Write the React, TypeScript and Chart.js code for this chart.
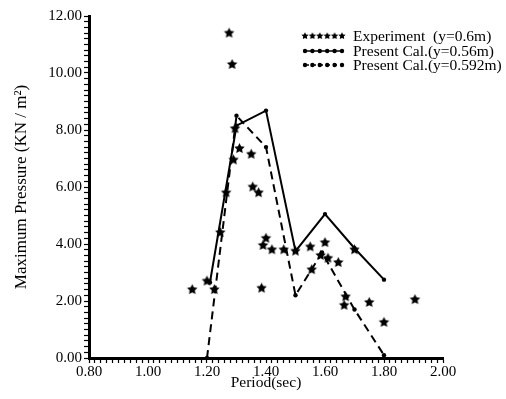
import React, { useEffect, useRef } from 'react';
import { Chart, registerables } from 'chart.js';

Chart.register(...registerables);

// Experiment (y = 0.6 m) — period (sec), max pressure (KN/m^2)
const expPeriod = [1.15, 1.2, 1.225, 1.245, 1.265, 1.275, 1.285, 1.295, 1.29, 1.31, 1.35, 1.355, 1.375, 1.385, 1.39, 1.4, 1.42, 1.46, 1.5, 1.55, 1.555, 1.585, 1.6, 1.61, 1.645, 1.665, 1.67, 1.7, 1.75, 1.8, 1.905];
const expPressure = [2.4, 2.7, 2.4, 4.4, 5.8, 11.4, 10.3, 8.05, 6.95, 7.35, 7.15, 6.0, 5.8, 2.45, 3.95, 4.2, 3.8, 3.8, 3.75, 3.9, 3.1, 3.6, 4.05, 3.5, 3.35, 1.85, 2.15, 3.8, 1.95, 1.25, 2.05];

// Present calculation (y = 0.56 m)
const cal056Period = [1.21, 1.3, 1.4, 1.5, 1.6, 1.7, 1.8];
const cal056Pressure = [2.65, 8.15, 8.68, 3.75, 5.05, 3.85, 2.75];

// Present calculation (y = 0.592 m)
const cal0592Period = [1.2, 1.3, 1.4, 1.5, 1.59, 1.7, 1.8];
const cal0592Pressure = [0.0, 8.5, 7.4, 2.2, 3.7, 1.7, 0.1];

const legendLabels = ['Experiment  (y=0.6m)', 'Present Cal.(y=0.56m)', 'Present Cal.(y=0.592m)'];
const xTitle = 'Period(sec)';
const yTitle = 'Maximum Pressure (KN / m\u00B2)';

const FONT = '"Liberation Serif", "DejaVu Serif", serif';

function makeStar(r: number): HTMLCanvasElement {
  const s = Math.ceil(r * 2) + 2;
  const c = document.createElement('canvas');
  c.width = s;
  c.height = s;
  const ctx = c.getContext('2d')!;
  const cx = s / 2;
  const cy = s / 2;
  ctx.beginPath();
  for (let i = 0; i < 10; i++) {
    const a = -Math.PI / 2 + (i * Math.PI) / 5;
    const rad = i % 2 === 0 ? r : r * 0.5;
    const x = cx + Math.cos(a) * rad;
    const y = cy + Math.sin(a) * rad;
    if (i === 0) ctx.moveTo(x, y);
    else ctx.lineTo(x, y);
  }
  ctx.closePath();
  ctx.fillStyle = '#000';
  ctx.fill();
  return c;
}

function isMajor(v: number, step: number) {
  const q = v / step;
  return Math.abs(q - Math.round(q)) < 1e-6;
}

export default function App() {
  const ref = useRef<HTMLCanvasElement | null>(null);

  useEffect(() => {
    if (!ref.current) return;
    const star = makeStar(5.5);
    const legendStar = makeStar(3.8);

    const legendPlugin = {
      id: 'customLegend',
      afterDraw(chart: any) {
        const ctx = chart.ctx as CanvasRenderingContext2D;
        ctx.save();
        const x0 = 305;
        const x1 = 342;
        const rows = [36, 51, 65];
        ctx.font = '15.5px ' + FONT;
        ctx.fillStyle = '#000';
        ctx.textBaseline = 'middle';
        ctx.textAlign = 'left';
        rows.forEach((y, i) => {
          if (i === 0) {
            for (let k = 0; k < 6; k++) {
              const px = x0 + ((x1 - x0) * k) / 5;
              ctx.drawImage(legendStar, px - legendStar.width / 2, y - legendStar.height / 2);
            }
          } else {
            ctx.strokeStyle = '#000';
            ctx.lineWidth = 1.5;
            ctx.setLineDash(i === 2 ? [4, 3] : []);
            ctx.beginPath();
            ctx.moveTo(x0, y);
            ctx.lineTo(x1, y);
            ctx.stroke();
            ctx.setLineDash([]);
            for (let k = 0; k < 6; k++) {
              const px = x0 + ((x1 - x0) * k) / 5;
              ctx.beginPath();
              ctx.arc(px, y, 2.2, 0, Math.PI * 2);
              ctx.fill();
            }
          }
          ctx.fillText(legendLabels[i], 353, y + 1);
        });
        ctx.restore();
      },
    };

    const chart = new Chart(ref.current, {
      type: 'scatter',
      data: {
        datasets: [
          {
            label: legendLabels[0],
            data: expPeriod.map((x, i) => ({ x, y: expPressure[i] })),
            pointStyle: star as any,
            showLine: false,
          },
          {
            label: legendLabels[1],
            data: cal056Period.map((x, i) => ({ x, y: cal056Pressure[i] })),
            showLine: true,
            borderColor: '#000',
            backgroundColor: '#000',
            borderWidth: 2,
            pointRadius: 2.2,
            pointBackgroundColor: '#000',
            pointBorderWidth: 0,
          },
          {
            label: legendLabels[2],
            data: cal0592Period.map((x, i) => ({ x, y: cal0592Pressure[i] })),
            showLine: true,
            borderColor: '#000',
            backgroundColor: '#000',
            borderWidth: 2,
            borderDash: [8, 5],
            pointRadius: 2.2,
            pointBackgroundColor: '#000',
            pointBorderWidth: 0,
          },
        ],
      },
      options: {
        responsive: false,
        animation: false,
        devicePixelRatio: 1,
        layout: { padding: { left: 0, top: 16, right: 63, bottom: 0 } },
        plugins: {
          legend: { display: false },
          tooltip: { enabled: false },
        },
        scales: {
          x: {
            type: 'linear',
            min: 0.8,
            max: 2.0,
            afterFit: (s: any) => {
              s.height = 41;
            },
            border: { display: true, color: '#000', width: 3 },
            grid: { drawOnChartArea: false, drawTicks: true, tickLength: 5, tickColor: '#000', tickWidth: 1.2 },
            ticks: {
              stepSize: 0.02,
              autoSkip: false,
              maxRotation: 0,
              padding: 0,
              color: '#000',
              font: { family: FONT, size: 15 },
              callback: (v: any) => (isMajor(Number(v), 0.2) ? Number(v).toFixed(2) : ''),
            },
            title: {
              display: true,
              text: xTitle,
              color: '#000',
              font: { family: FONT, size: 15.5 },
              padding: { top: 0, bottom: 7 },
            },
          },
          y: {
            type: 'linear',
            min: 0,
            max: 12,
            afterFit: (s: any) => {
              s.width = 89;
            },
            border: { display: true, color: '#000', width: 3 },
            grid: { drawOnChartArea: false, drawTicks: true, tickLength: 5, tickColor: '#000', tickWidth: 1.2 },
            ticks: {
              stepSize: 0.2,
              autoSkip: false,
              padding: 2,
              color: '#000',
              font: { family: FONT, size: 15 },
              callback: (v: any) => (isMajor(Number(v), 2) ? Number(v).toFixed(2) : ''),
            },
            title: {
              display: true,
              text: yTitle,
              color: '#000',
              font: { family: FONT, size: 17 },
              padding: { top: 11, bottom: 0 },
            },
          },
        },
      },
      plugins: [legendPlugin],
    } as any);

    return () => chart.destroy();
  }, []);

  return (
    <div style={{ position: 'absolute', left: 0, top: 0, width: 506, height: 399, background: '#fff' }}>
      <canvas ref={ref} width={506} height={399} style={{ display: 'block' }} />
    </div>
  );
}
